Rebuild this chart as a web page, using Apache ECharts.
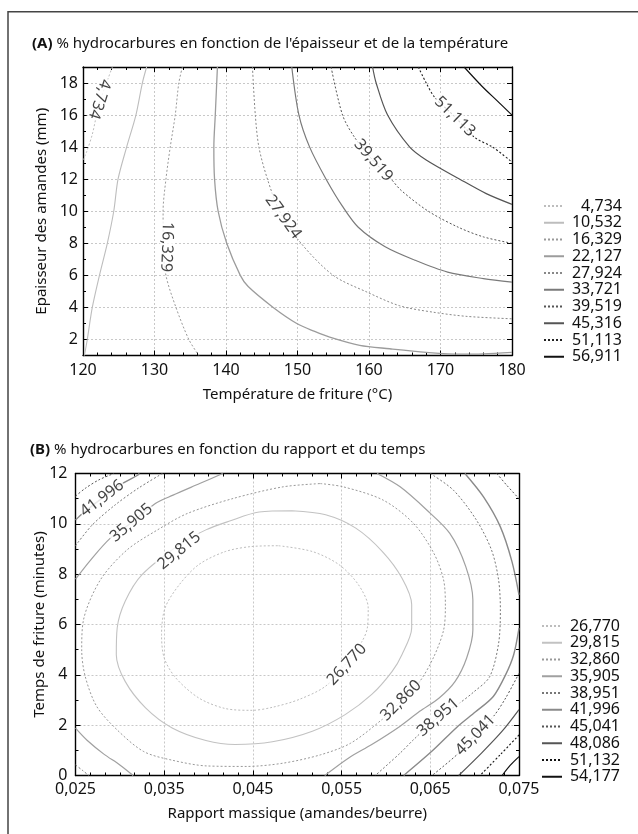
<!DOCTYPE html>
<html>
<head>
<meta charset="utf-8">
<script src="https://cdn.jsdelivr.net/npm/echarts@6/dist/echarts.min.js"></script>
<style>
  html, body { margin: 0; padding: 0; background: #fff; }
  #chart { width: 638px; height: 834px; }
</style>
</head>
<body>
<div id="chart"></div>
<script>
// ---- panel A : temperature (x) / thickness (y) ----
const levelsA = ['4,734', '10,532', '16,329', '22,127', '27,924', '33,721', '39,519', '45,316', '51,113', '56,911']
const contourA_4734 = [[124.1, 19], [123.2, 17.9], [122.2, 16.6], [121.3, 14.8], [120.5, 13.7], [120, 13.2]]
const contourA_10532 = [[128.9, 19], [128.3, 18], [127.4, 16], [126.1, 14], [124.9, 12], [124.3, 10], [123.4, 8], [122.3, 6], [121.3, 4], [120.6, 2], [120.2, 1]]
const contourA_16329 = [[133.9, 19], [133.4, 18], [132.9, 16], [132.2, 14], [131.6, 12], [131.2, 10], [131.2, 8], [131.6, 6], [133, 4], [134.8, 2], [136.2, 1]]
const contourA_22127 = [[138.8, 19], [138.5, 16], [138.3, 14], [138.4, 12], [138.9, 10], [140.1, 8], [142, 6], [143.1, 5.3], [146.6, 4], [149.9, 3.0], [152.4, 2.5], [154.5, 2.14], [158.7, 1.63], [162.9, 1.42], [168, 1.2], [172.7, 1.08], [176, 1.1], [180, 1.19]]
const contourA_27924 = [[143.7, 19], [144.1, 16], [144.6, 14], [145.8, 12], [147.5, 10], [150.5, 8], [155, 6], [159.7, 4.96], [164.3, 4.1], [169, 3.7], [173.7, 3.44], [180, 3.29]]
const contourA_33721 = [[149.2, 19], [150.2, 16], [151.7, 14], [154, 12], [156.3, 10.3], [158.5, 9], [162.2, 7.8], [166.4, 6.95], [171, 6.2], [176, 5.8], [180, 5.58]]
const contourA_39519 = [[154.7, 19], [156.3, 16], [158, 14.6], [160.5, 13.2], [163.1, 12], [164.5, 11.3], [168.3, 10], [172.5, 9], [176, 8.4], [180, 8.0]]
const contourA_45316 = [[160.5, 19], [161, 18], [162.6, 16], [165.7, 14], [168, 13.2], [172.7, 12], [176.4, 11.1], [180, 10.43]]
const contourA_51113 = [[166.9, 19], [168, 18], [169.2, 17.1], [172, 15.9], [174.8, 14.6], [177.3, 14], [180, 13.07]]
const contourA_56911 = [[173.3, 19], [175.8, 17.8], [177.9, 16.9], [180, 16.0]]
// label text, x, y, angle
const labelsA = [
    ['4,734', 122.3, 17.0, -108],
    ['16,329', 131.7, 7.77, -92],
    ['27,924', 148.0, 9.64, -54],
    ['39,519', 160.6, 13.17, -49],
    ['51,113', 172.0, 15.9, -44]
]

// ---- panel B : ratio (x) / time (y) ----
const levelsB = ['26,770', '29,815', '32,860', '35,905', '38,951', '41,996', '45,041', '48,086', '51,132', '54,177']
const contourB_26770 = [[0.0479, 9.13], [0.0517, 8.90], [0.0547, 8.38], [0.0569, 7.58], [0.0580, 6.66], [0.0579, 5.86], [0.0573, 5.33], [0.0554, 4.41], [0.0532, 3.55], [0.0502, 3.02], [0.0472, 2.71], [0.0449, 2.59], [0.0419, 2.66], [0.0389, 3.08], [0.0363, 3.88], [0.0350, 4.67], [0.0347, 5.60], [0.0351, 6.66], [0.0367, 7.58], [0.0389, 8.38], [0.0419, 8.90], [0.0449, 9.10], [0.0479, 9.13]]
const contourB_29815 = [[0.0494, 10.52], [0.0532, 10.36], [0.0566, 9.83], [0.0596, 8.90], [0.0618, 7.85], [0.0629, 6.79], [0.0629, 5.86], [0.0618, 4.80], [0.0607, 4.14], [0.0584, 3.22], [0.0554, 2.42], [0.0517, 1.76], [0.0472, 1.34], [0.0430, 1.23], [0.0397, 1.39], [0.0359, 1.89], [0.0329, 2.69], [0.0306, 3.74], [0.0296, 4.80], [0.0297, 5.86], [0.0306, 6.92], [0.0325, 7.98], [0.0367, 9.17], [0.0397, 9.76], [0.0423, 10.10], [0.0457, 10.47], [0.0494, 10.52]]
const contourB_32860 = [[0.0526, 11.60], [0.0552, 11.47], [0.0597, 10.94], [0.0631, 10.02], [0.0654, 8.83], [0.0665, 7.77], [0.0667, 6.71], [0.0665, 5.78], [0.0654, 4.72], [0.0638, 3.73], [0.0617, 2.95], [0.0595, 2.21], [0.0560, 1.28], [0.0526, 0.82], [0.0484, 0.49], [0.0443, 0.36], [0.0398, 0.38], [0.0360, 0.60], [0.0327, 0.95], [0.0297, 1.81], [0.0274, 2.74], [0.0261, 3.93], [0.0257, 4.99], [0.0259, 6.18], [0.0278, 7.77], [0.0308, 8.96], [0.0342, 9.75], [0.0376, 10.41], [0.0428, 11.01], [0.0484, 11.47], [0.0526, 11.60]]
const contourB_35905 = [
    [[0.025, 7.8], [0.0267, 8.56], [0.0289, 9.42], [0.0313, 10.04], [0.0340, 10.81], [0.0360, 11.14], [0.0390, 11.6], [0.0416, 12]],
    [[0.0590, 12], [0.0616, 11.47], [0.0646, 10.55], [0.0672, 9.62], [0.0690, 8.30], [0.0698, 6.97], [0.0698, 5.78], [0.0691, 4.67], [0.0678, 3.74], [0.0660, 3.08], [0.0638, 2.55], [0.0616, 1.96], [0.0584, 1.23], [0.0558, 0.70], [0.0531, 0]],
    [[0.025, 1.88], [0.0263, 1.4], [0.0282, 0.85], [0.0300, 0.42], [0.0315, 0]]
]
const contourB_38951 = [
    [[0.025, 9.13], [0.0269, 9.96], [0.0295, 10.76], [0.0321, 11.42], [0.0348, 12]],
    [[0.0650, 12], [0.0676, 11.34], [0.0702, 10.15], [0.0719, 8.96], [0.0727, 7.77], [0.0729, 6.58], [0.0727, 5.25], [0.0717, 3.93], [0.0699, 3.32], [0.0680, 2.80], [0.0659, 2.32], [0.0631, 1.42], [0.0616, 0.89], [0.0588, 0]],
    [[0.025, 0.42], [0.0258, 0.2], [0.0265, 0]]
]
const contourB_41996 = [
    [[0.025, 10.15], [0.0258, 10.41], [0.0280, 11.02], [0.0303, 11.6], [0.0320, 11.93], [0.0322, 12]],
    [[0.0689, 12], [0.0710, 11.07], [0.0729, 9.88], [0.0742, 8.51], [0.075, 7.18]],
    [[0.075, 5.86], [0.0744, 4.80], [0.0735, 4.01], [0.0721, 3.14], [0.0701, 2.53], [0.0680, 1.92], [0.0652, 0.97], [0.0620, 0]]
]
const contourB_45041 = [
    [[0.025, 11.1], [0.0261, 11.41], [0.0276, 11.74], [0.0291, 11.97], [0.0293, 12]],
    [[0.0725, 12], [0.0736, 11.54], [0.075, 11.0]],
    [[0.075, 4.06], [0.0735, 3.08], [0.0721, 2.34], [0.0701, 1.63], [0.0682, 0.89], [0.0652, 0]]
]
const contourB_48086 = [[0.075, 2.62], [0.0731, 1.76], [0.0708, 0.90], [0.0682, 0]]
const contourB_51132 = [[0.075, 1.61], [0.0729, 0.83], [0.0706, 0]]
const contourB_54177 = [[0.075, 0.75], [0.0740, 0.40], [0.0731, 0]]
const labelsB = [
    ['41,996', 0.0280, 11.01, 37],
    ['35,905', 0.0313, 10.04, 40],
    ['29,815', 0.0367, 8.93, 39],
    ['26,770', 0.0556, 4.41, 47],
    ['32,860', 0.0617, 2.98, 45],
    ['38,951', 0.0659, 2.32, 41],
    ['45,041', 0.0701, 1.61, 46]
]

const FONT = "'Noto Sans', sans-serif"
const DOT = [2, 2]

// line look of each level, same order as the level names
const stylesA = [
    { color: '#bdbdbd', type: DOT, width: 1 },
    { color: '#bdbdbd', type: 'solid', width: 1.1 },
    { color: '#999', type: DOT, width: 1 },
    { color: '#9c9c9c', type: 'solid', width: 1.3 },
    { color: '#888', type: DOT, width: 1 },
    { color: '#7a7a7a', type: 'solid', width: 1.2 },
    { color: '#555', type: DOT, width: 1 },
    { color: '#555', type: 'solid', width: 1.2 },
    { color: '#222', type: DOT, width: 1.1 },
    { color: '#111', type: 'solid', width: 1.2 }
]
const stylesB = [
    { color: '#bdbdbd', type: DOT, width: 1 },
    { color: '#c2c2c2', type: 'solid', width: 1.1 },
    { color: '#999', type: DOT, width: 1 },
    { color: '#a0a0a0', type: 'solid', width: 1.2 },
    { color: '#777', type: DOT, width: 1 },
    { color: '#8a8a8a', type: 'solid', width: 1.4 },
    { color: '#555', type: DOT, width: 1 },
    { color: '#555', type: 'solid', width: 1.2 },
    { color: '#111', type: DOT, width: 1.1 },
    { color: '#111', type: 'solid', width: 1.2 }
]
const piecesA = [[contourA_4734], [contourA_10532], [contourA_16329], [contourA_22127], [contourA_27924],
    [contourA_33721], [contourA_39519], [contourA_45316], [contourA_51113], [contourA_56911]]
const piecesB = [[contourB_26770], [contourB_29815], [contourB_32860], contourB_35905, contourB_38951,
    contourB_41996, contourB_45041, [contourB_48086], [contourB_51132], [contourB_54177]]

function buildSeries(levels, pieces, styles, xi, yi) {
    const out = []
    levels.forEach((name, i) => {
        pieces[i].forEach(piece => {
            out.push({
                type: 'line', name: name, data: piece,
                xAxisIndex: xi, yAxisIndex: yi,
                symbol: 'none', smooth: 0.3, silent: true,
                lineStyle: styles[i], itemStyle: { color: styles[i].color },
                z: 2
            })
        })
    })
    return out
}
function labelSeries(labels, xi, yi) {
    return {
        type: 'scatter', xAxisIndex: xi, yAxisIndex: yi, symbolSize: 0, silent: true, z: 5,
        data: labels.map(l => ({
            value: [l[1], l[2]],
            label: { show: true, formatter: l[0], rotate: l[3] }
        })),
        label: {
            position: 'inside', fontSize: 16, fontFamily: FONT, color: '#111',
            backgroundColor: '#fff', padding: [0, 1], lineHeight: 14
        }
    }
}
function legendFor(levels, left, top) {
    return {
        orient: 'vertical', left: left, top: top, padding: 0,
        itemWidth: 20, itemHeight: 14, itemGap: 0.75,
        selectedMode: false, data: levels,
        itemStyle: { opacity: 0 },
        formatter: n => '{v|' + n + '}',
        textStyle: { rich: { v: { width: 53, align: 'right', fontSize: 16, lineHeight: 14, fontFamily: FONT, color: '#111' } } }
    }
}

const tickStyle = { show: true, inside: true, length: 5, lineStyle: { color: '#000', width: 1 } }
const minorStyle = { show: true, splitNumber: 5, length: 3, lineStyle: { color: '#000', width: 1 } }
const lineStyle = { show: true, onZero: false, lineStyle: { color: '#000', width: 1.4 } }
const gridLine = { show: true, lineStyle: { color: '#c8c8c8', type: [2, 2], width: 1 } }
const labelStyle = { fontSize: 16, fontFamily: FONT, color: '#111' }
const nameStyle = { fontSize: 15, fontFamily: FONT, color: '#111' }
const titleStyle = {
    fontSize: 15, fontWeight: 'normal', color: '#111', fontFamily: FONT,
    rich: { b: { fontSize: 15, fontWeight: 'bold', fontFamily: FONT, color: '#111' } }
}

const chart = echarts.init(document.getElementById('chart'))
chart.setOption({
    animation: false,
    backgroundColor: '#fff',
    textStyle: { fontFamily: FONT },
    graphic: [{
        type: 'rect', silent: true,
        shape: { x: 8, y: 11.75, width: 700, height: 900 },
        style: { fill: 'none', stroke: '#444', lineWidth: 1.5 }
    }],
    title: [
        {
            left: 32, top: 36, padding: 0,
            text: '{b|(A)} % hydrocarbures en fonction de l\'épaisseur et de la température',
            textStyle: titleStyle
        },
        {
            left: 30, top: 442, padding: 0,
            text: '{b|(B)} % hydrocarbures en fonction du rapport et du temps',
            textStyle: titleStyle
        }
    ],
    grid: [
        { left: 83, top: 67, width: 429, height: 288.5 },
        { left: 75.5, top: 473.5, width: 443.5, height: 302 }
    ],
    legend: [legendFor(levelsA, 543, 198), legendFor(levelsB, 541, 618)],
    xAxis: [
        {
            type: 'value', gridIndex: 0, min: 120, max: 180, interval: 10,
            name: 'Température de friture (°C)', nameLocation: 'middle', nameGap: 32, nameTextStyle: nameStyle,
            axisLine: lineStyle, axisTick: tickStyle, minorTick: minorStyle, splitLine: gridLine,
            axisLabel: Object.assign({ margin: 7 }, labelStyle)
        },
        {
            type: 'value', gridIndex: 0, position: 'top', min: 120, max: 180, interval: 10,
            axisLine: lineStyle, axisTick: tickStyle, minorTick: minorStyle, splitLine: { show: false },
            axisLabel: { show: false }
        },
        {
            type: 'value', gridIndex: 1, min: 0.025, max: 0.075, interval: 0.01,
            name: 'Rapport massique (amandes/beurre)', nameLocation: 'middle', nameGap: 31, nameTextStyle: nameStyle,
            nameMoveOverlap: false,
            axisLine: lineStyle, axisTick: tickStyle, minorTick: Object.assign({}, minorStyle, { splitNumber: 6 }), splitLine: gridLine,
            axisLabel: Object.assign({ margin: 6, formatter: v => v.toFixed(3).replace('.', ',') }, labelStyle)
        },
        {
            type: 'value', gridIndex: 1, position: 'top', min: 0.025, max: 0.075, interval: 0.01,
            axisLine: lineStyle, axisTick: tickStyle, minorTick: Object.assign({}, minorStyle, { splitNumber: 6 }), splitLine: { show: false },
            axisLabel: { show: false }
        }
    ],
    yAxis: [
        {
            type: 'value', gridIndex: 0, min: 1, max: 19, splitNumber: 9,
            name: 'Epaisseur des amandes (mm)', nameLocation: 'middle', nameGap: 32, nameTextStyle: nameStyle,
            axisLine: lineStyle, axisTick: tickStyle, splitLine: gridLine,
            axisLabel: Object.assign({ margin: 5, showMinLabel: false, showMaxLabel: false }, labelStyle)
        },
        {
            type: 'value', gridIndex: 0, position: 'right', min: 1, max: 19, splitNumber: 9,
            axisLine: lineStyle, axisTick: tickStyle, splitLine: { show: false }, axisLabel: { show: false }
        },
        {
            type: 'value', gridIndex: 0, position: 'left', min: 1, max: 19, interval: 1,
            axisLine: { show: false }, axisTick: Object.assign({}, tickStyle, { length: 3 }), splitLine: { show: false }, axisLabel: { show: false }
        },
        {
            type: 'value', gridIndex: 0, position: 'right', min: 1, max: 19, interval: 1,
            axisLine: { show: false }, axisTick: Object.assign({}, tickStyle, { length: 3 }), splitLine: { show: false }, axisLabel: { show: false }
        },
        {
            type: 'value', gridIndex: 1, min: 0, max: 12, interval: 2,
            name: 'Temps de friture (minutes)', nameLocation: 'middle', nameGap: 28, nameTextStyle: nameStyle,
            nameMoveOverlap: false,
            axisLine: lineStyle, axisTick: tickStyle, minorTick: Object.assign({}, minorStyle, { splitNumber: 2 }), splitLine: gridLine,
            axisLabel: Object.assign({ margin: 8 }, labelStyle)
        },
        {
            type: 'value', gridIndex: 1, position: 'right', min: 0, max: 12, interval: 2,
            axisLine: lineStyle, axisTick: tickStyle, minorTick: Object.assign({}, minorStyle, { splitNumber: 2 }), splitLine: { show: false },
            axisLabel: { show: false }
        }
    ],
    series: [].concat(
        buildSeries(levelsA, piecesA, stylesA, 0, 0),
        [labelSeries(labelsA, 0, 0)],
        buildSeries(levelsB, piecesB, stylesB, 2, 4),
        [labelSeries(labelsB, 2, 4)]
    )
})
</script>
</body>
</html>
